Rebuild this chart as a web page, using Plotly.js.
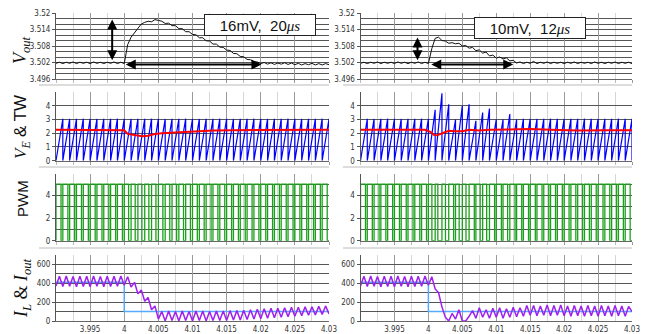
<!DOCTYPE html>
<html><head><meta charset="utf-8">
<script src="https://cdn.plot.ly/plotly-3.0.1.min.js"></script>
<style>html,body{margin:0;padding:0;background:#fff}#c{width:649px;height:334px}</style>
</head><body><div id="c"></div>
<script>
// ---- data ----
const tHalf = [
3.9900,3.9905,3.9910,3.9915,3.9920,3.9925,3.9930,3.9935,3.9940,3.9945,
3.9950,3.9955,3.9960,3.9965,3.9970,3.9975,3.9980,3.9985,3.9990,3.9995,
4.0000,4.0005,4.0010,4.0015,4.0020,4.0025,4.0030,4.0035,4.0040,4.0045,
4.0050,4.0055,4.0060,4.0065,4.0070,4.0075,4.0080,4.0085,4.0090,4.0095,
4.0100,4.0105,4.0110,4.0115,4.0120,4.0125,4.0130,4.0135,4.0140,4.0145,
4.0150,4.0155,4.0160,4.0165,4.0170,4.0175,4.0180,4.0185,4.0190,4.0195,
4.0200,4.0205,4.0210,4.0215,4.0220,4.0225,4.0230,4.0235,4.0240,4.0245,
4.0250,4.0255,4.0260,4.0265,4.0270,4.0275,4.0280,4.0285,4.0290,4.0295,
4.0300];
const tReset = [
3.991,3.992,3.993,3.994,3.995,3.996,3.997,3.998,3.999,4.000,
4.001,4.002,4.003,4.004,4.005,4.006,4.007,4.008,4.009,4.010,
4.011,4.012,4.013,4.014,4.015,4.016,4.017,4.018,4.019,4.020,
4.021,4.022,4.023,4.024,4.025,4.026,4.027,4.028,4.029,4.030];
const voutL = [
3.5017,3.5021,3.5016,3.5021,3.5017,3.5022,3.5016,3.5021,3.5017,3.5021,
3.5016,3.5022,3.5017,3.5021,3.5016,3.5021,3.5017,3.5022,3.5016,3.5021,
3.5016,3.5085,3.5112,3.5128,3.5148,3.5160,3.5166,3.5170,3.5168,3.5176,
3.5173,3.5170,3.5162,3.5163,3.5154,3.5154,3.5143,3.5143,3.5132,3.5132,
3.5122,3.5121,3.5110,3.5110,3.5099,3.5098,3.5087,3.5087,3.5076,3.5075,
3.5065,3.5064,3.5053,3.5052,3.5042,3.5041,3.5031,3.5030,3.5022,3.5022,
3.5016,3.5020,3.5014,3.5019,3.5013,3.5018,3.5014,3.5019,3.5013,3.5018,
3.5012,3.5017,3.5011,3.5016,3.5012,3.5017,3.5011,3.5016,3.5011,3.5016,
3.5012];
const voutR = [
3.5017,3.5021,3.5016,3.5021,3.5017,3.5022,3.5016,3.5021,3.5017,3.5021,
3.5016,3.5022,3.5017,3.5021,3.5016,3.5021,3.5017,3.5022,3.5016,3.5021,
3.5016,3.5070,3.5108,3.5112,3.5100,3.5098,3.5090,3.5092,3.5088,3.5090,
3.5080,3.5082,3.5072,3.5075,3.5063,3.5066,3.5054,3.5058,3.5044,3.5047,
3.5036,3.5040,3.5033,3.5037,3.5026,3.5028,3.5018,3.5022,3.5016,3.5021,
3.5017,3.5024,3.5016,3.5021,3.5017,3.5022,3.5016,3.5021,3.5017,3.5021,
3.5016,3.5021,3.5017,3.5022,3.5016,3.5021,3.5017,3.5021,3.5016,3.5022,
3.5017,3.5021,3.5016,3.5021,3.5017,3.5022,3.5016,3.5021,3.5017,3.5021,
3.5016];
const twPeakL = [
3.05,3.04,3.05,3.06,3.05,3.04,3.05,3.05,3.06,3.05,
3.04,3.05,3.05,3.06,3.05,3.04,3.05,3.05,3.06,3.05,
3.04,3.05,3.05,3.06,3.05,3.04,3.05,3.05,3.06,3.05,
3.04,3.05,3.05,3.06,3.05,3.04,3.05,3.05,3.06,3.05];
const twPeakR = [
3.05,3.04,3.05,3.06,3.05,3.04,3.05,3.05,3.06,3.05,
3.70,4.90,4.10,3.00,4.00,4.10,2.90,3.50,3.80,3.00,
3.00,3.40,3.00,3.05,3.05,3.04,3.05,3.06,3.05,3.04,
3.05,3.05,3.06,3.05,3.04,3.05,3.05,3.06,3.05,3.05];
const veTL = [3.990,3.9995,4.000,4.0005,4.0015,4.0026,4.0035,4.0045,4.0055,4.007,4.009,4.011,4.013,4.016,4.020,4.025,4.030];
const veL  = [2.25, 2.25,  2.22, 1.95,  1.85,  1.78,  1.82,  1.95,  2.00,  2.05, 2.10, 2.15, 2.20, 2.22, 2.23, 2.24, 2.25];
const veTR = [3.990,3.9995,4.0003,4.0008,4.0013,4.002,4.003,4.004,4.005,4.006,4.0075,4.009,4.012,4.015,4.018,4.022,4.026,4.030];
const veR  = [2.25, 2.25,  2.10,  1.88,  1.85,  1.98, 2.18, 2.15, 2.15, 2.25, 2.20,  2.25, 2.30, 2.30, 2.25, 2.20, 2.22, 2.22];
const ilL = [
370,475,365,478,368,472,362,476,366,474,
364,478,368,472,364,476,366,474,368,478,
380,470,360,410,290,330,210,250,120,160,
20,100,0,105,5,100,0,105,5,100,
0,105,5,105,0,100,5,105,5,105,
5,110,10,110,10,115,15,120,20,125,
25,130,30,135,35,135,40,140,45,145,
50,145,55,150,60,150,65,155,70,160,
75];
const ilR = [
370,475,365,478,368,472,362,476,366,474,
364,478,368,472,364,476,366,474,368,478,
380,470,340,300,150,40,0,80,20,120,
0,0,50,110,30,140,40,120,30,135,
40,140,30,130,40,145,45,140,50,165,
60,165,55,160,60,170,55,165,60,170,
55,160,50,165,55,160,50,165,55,160,
50,165,55,160,50,165,55,160,50,155,
100];
const ioutT = [3.990, 4.000, 4.000, 4.030];
const iout  = [410, 410, 100, 100];
const pwmLevel = 5;
const xTickVals = [3.995,4.0,4.005,4.01,4.015,4.02,4.025,4.03];
const xTickText = ['3.995','4','4.005','4.01','4.015','4.02','4.025','4.03'];

// ---- helpers building traces from the arrays ----
function interp(ts, vs, t){
  if (t <= ts[0]) return vs[0];
  for (let i=1;i<ts.length;i++){ if (t<=ts[i]){ const f=(t-ts[i-1])/(ts[i]-ts[i-1]); return vs[i-1]+f*(vs[i]-vs[i-1]); } }
  return vs[vs.length-1];
}
function saw(peaks){
  const x=[tHalf[0]], y=[0];
  for (let i=0;i<tReset.length;i++){ x.push(tReset[i],tReset[i]); y.push(peaks[i],0); }
  return {x,y};
}
function pwm(peaks, veT, ve){
  const x=[], y=[];
  for (let i=0;i<tReset.length;i++){
    const tp = i===0 ? tHalf[0] : tReset[i-1], tr = tReset[i];
    const v = interp(veT, ve, tp+0.7*(tr-tp));
    const tc = v>=peaks[i] ? tr : tp + (v/peaks[i])*(tr-tp);
    x.push(tp,tp,tc,tc); y.push(0,pwmLevel,pwmLevel,0);
  }
  x.push(tReset[tReset.length-1]); y.push(0);
  return {x,y};
}

const traces = [];
function add(k, x, y, color, width){
  traces.push({type:'scatter', mode:'lines', x, y, xaxis:'x'+(k===1?'':k), yaxis:'y'+(k===1?'':k),
    line:{color, width}, hoverinfo:'skip'});
}
add(1, tHalf, voutL, '#111', 1);
add(2, tHalf, voutR, '#111', 1);
const sL = saw(twPeakL), sR = saw(twPeakR);
add(3, sL.x, sL.y, '#0000ff', 1.2);
add(3, veTL, veL, '#ff0000', 2);
add(4, sR.x, sR.y, '#0000ff', 1.2);
add(4, veTR, veR, '#ff0000', 2);
const pL = pwm(twPeakL, veTL, veL), pR = pwm(twPeakR, veTR, veR);
add(5, pL.x, pL.y, '#1aa31a', 1.3);
add(6, pR.x, pR.y, '#1aa31a', 1.3);
add(7, ioutT, iout, '#55aaff', 1.5);
add(7, tHalf, ilL, '#a020f0', 1.5);
add(8, ioutT, iout, '#55aaff', 1.5);
add(8, tHalf, ilR, '#a020f0', 1.5);

const W=649, H=334;
const xdom = [[56/W, 329/W],[360.5/W, 632/W]];
const ydom = [[1-79/H,1-13/H],[1-160.7/H,1-92/H],[1-240.7/H,1-174/H],[1-321/H,1-255/H]];
const tickFam = 'Liberation Sans Narrow, DejaVu Sans Condensed, Arial Narrow, Arial';
const tickFont = {family:tickFam, size:8, color:'#333'};
const yspec = [
  {range:[3.496,3.52], tick0:3.496, dtick:0.006, minor:0.002},
  {range:[0,5], tick0:0, dtick:1, minor:1, vals:[0,1,2,3,4]},
  {range:[0,5.9], tick0:0, dtick:2, minor:1, vals:[0,2,4]},
  {range:[0,700], tick0:0, dtick:200, minor:100, vals:[0,200,400,600]}
];
const layout = {width:W, height:H, margin:{l:0,r:0,t:0,b:0}, paper_bgcolor:'#fff', plot_bgcolor:'#fff',
  showlegend:false, annotations:[], shapes:[]};
for (let p=0;p<4;p++){
  for (let c=0;c<2;c++){
    const k = p*2+c+1, sfx = k===1?'':k;
    const bottom = p===3;
    layout['xaxis'+sfx] = {domain:xdom[c], anchor:'y'+sfx, range:[3.99,4.03], tickmode:'array',
      tickvals:xTickVals, ticktext:xTickText, showticklabels:bottom, ticks:bottom?'':'outside', ticklen:3, tickcolor:'#999',
      gridcolor:'#9a9a9a', gridwidth:1, showline:true, linecolor:'#666', linewidth:1, zeroline:false,
      minor:{tickmode:'linear', tick0:3.99, dtick:0.0025, showgrid:true, gridcolor:'#d6d6d6', ticks:bottom?'':'outside', ticklen:3, tickcolor:'#bbb'},
      tickfont:{family:tickFam, size:8, color:'#333'}, ticklabelstandoff:0, fixedrange:true};
    const ys = yspec[p];
    const ya = {domain:ydom[p], anchor:'x'+sfx, range:ys.range, ticks:'outside', ticklen:3, tickcolor:'#555',
      gridcolor:'#555', gridwidth:1, showline:true, linecolor:'#555', linewidth:1, zeroline:false,
      minor:{tickmode:'linear', tick0:ys.tick0, dtick:ys.minor, showgrid:true, gridcolor:'#555', ticks:''},
      tickfont:tickFont, fixedrange:true, ticklabelstandoff:0};
    if (ys.vals){ ya.tickmode='array'; ya.tickvals=ys.vals; } else { ya.tickmode='linear'; ya.tick0=ys.tick0; ya.dtick=ys.dtick; }
    layout['yaxis'+sfx] = ya;
  }
}
[85,167,248].forEach(py=>{
  [[39,329],[343,632]].forEach(r=>{
    layout.shapes.push({type:'line', xref:'paper', yref:'paper', x0:r[0]/W, x1:r[1]/W, y0:1-py/H, y1:1-py/H,
      line:{color:'#dddddd', width:2}});
  });
});
const serif = 'Liberation Serif, DejaVu Serif, Times New Roman, serif';
const sans = 'Liberation Sans, Arial, sans-serif';
function ytitle(text, py, fam, size){
  layout.annotations.push({xref:'paper', yref:'paper', x:22/W, y:1-py/H, text, textangle:-90, showarrow:false,
    font:{family:fam, size, color:'#111'}, xanchor:'center', yanchor:'middle'});
}
ytitle('<i>V<sub>out</sub></i>', 50, serif, 18);
ytitle('<i>V<sub>E</sub></i> <span style="font-family:Liberation Sans, Arial">&amp; TW</span>', 127, serif, 17);
ytitle('PWM', 199, sans, 15);
ytitle('<i>I<sub>L</sub></i> &amp; <i>I<sub>out</sub></i>', 288, serif, 18);
function box(text, px, py){
  layout.annotations.push({xref:'paper', yref:'paper', x:px/W, y:1-py/H, text, showarrow:false,
    bgcolor:'#fff', bordercolor:'#222', borderwidth:1, borderpad:1, width:108, height:18,
    font:{family:sans, size:15, color:'#111'}, xanchor:'center', yanchor:'middle'});
}
box('16mV,  20<i><span style="font-family:Liberation Serif, serif">μs</span></i>', 259.5, 25.5);
box('10mV,  12<i><span style="font-family:Liberation Serif, serif">μs</span></i>', 530, 27.8);
function arrow(k, x, y, ax, ay){
  const sfx = k===1?'':k;
  layout.annotations.push({xref:'x'+sfx, yref:'y'+sfx, axref:'x'+sfx, ayref:'y'+sfx, x, y, ax, ay, text:'',
    showarrow:true, arrowhead:2, startarrowhead:2, arrowside:'end+start', arrowsize:1, startarrowsize:1,
    arrowwidth:2, arrowcolor:'#000'});
}
arrow(1, 3.99823, 3.5176, 3.99823, 3.5023);
arrow(1, 4.0201, 3.5013, 4.0000, 3.5013);
arrow(2, 3.99840, 3.5111, 3.99840, 3.5023);
arrow(2, 4.0125, 3.5013, 4.0002, 3.5013);

Plotly.newPlot('c', traces, layout, {staticPlot:true, displayModeBar:false});
</script></body></html>
